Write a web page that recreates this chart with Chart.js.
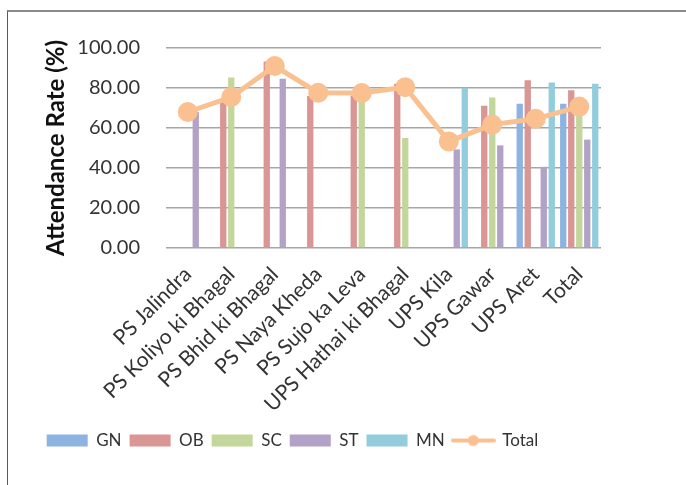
<!DOCTYPE html>
<html>
<head>
<meta charset="utf-8">
<script src="https://cdn.jsdelivr.net/npm/chart.js@4.4.1/dist/chart.umd.min.js"></script>
<style>
  html, body { margin: 0; padding: 0; background: #fff; }
  #frame {
    position: absolute; left: 7px; top: 10px; width: 720px; height: 520px;
    border-top: 2px solid #8c8c8c; border-left: 1px solid #5a5a5a;
  }
  #chart { position: absolute; left: 0; top: 0; }
</style>
</head>
<body>
<div id="frame"></div>
<canvas id="chart" width="686" height="485"></canvas>
<script>
// --- datos ---
const schools = ["PS Jalindra", "PS Koliyo ki Bhagal", "PS Bhid ki Bhagal", "PS Naya Kheda",
  "PS Sujo ka Leva", "UPS Hathai ki Bhagal", "UPS Kila", "UPS Gawar", "UPS Aret", "Total"];
const gn = [null, null, null, null, null, null, null, null, 72.1, 72.1];
const ob = [null, 73.0, 93.3, 76.0, 76.3, 82.1, null, 71.1, 83.9, 78.9];
const sc = [null, 85.3, null, null, 79.0, 55.0, null, 75.3, null, 71.0];
const st = [68.0, null, 84.6, null, null, null, 49.3, 51.3, 40.6, 54.2];
const mn = [null, null, null, null, null, null, 80.1, null, 82.8, 82.1];
const total = [68.0, 75.5, 91.0, 77.6, 77.5, 80.4, 53.3, 61.7, 64.6, 70.7];
const yTicks = [0, 20, 40, 60, 80, 100];

const orange = "#fac090";
const fontFam = "Lato, 'Open Sans', sans-serif";

// icono de la leyenda para la linea (linea + circulo)
const totalIcon = document.createElement("canvas");
totalIcon.width = 45; totalIcon.height = 14;
(() => {
    const c = totalIcon.getContext("2d");
    c.strokeStyle = orange; c.lineWidth = 4; c.lineCap = "round";
    c.beginPath(); c.moveTo(2, 7); c.lineTo(43, 7); c.stroke();
    c.fillStyle = orange;
    c.beginPath(); c.arc(22.5, 7, 5.5, 0, Math.PI * 2); c.fill();
})();

const barSet = (label, data, color) => ({
    type: "bar", label, data, backgroundColor: color, borderWidth: 0,
    categoryPercentage: 0.92, barPercentage: 0.79, order: 1
});

new Chart(document.getElementById("chart"), {
    data: {
        labels: schools,
        datasets: [
            barSet("GN", gn, "#8db3e2"),
            barSet("OB", ob, "#d99694"),
            barSet("SC", sc, "#c3d69b"),
            barSet("ST", st, "#b3a2c7"),
            barSet("MN", mn, "#93cddd"),
            {
                type: "line", label: "Total", data: total,
                borderColor: orange, backgroundColor: orange, borderWidth: 5,
                pointRadius: 10, pointHoverRadius: 10, pointBorderWidth: 0,
                pointBackgroundColor: orange, tension: 0, order: -1
            }
        ]
    },
    options: {
        responsive: false,
        animation: false,
        devicePixelRatio: 1,
        // padding izquierdo negativo para centrar la leyenda como en Excel
        layout: { padding: { top: 48, left: -16, right: 85, bottom: 26 } },
        plugins: {
            tooltip: { enabled: false },
            legend: {
                position: "bottom",
                labels: {
                    usePointStyle: true,
                    pointStyleWidth: 41,
                    boxHeight: 12,
                    padding: 8,
                    color: "#333",
                    font: { family: fontFam, size: 17 },
                    sort: (a, b) => a.datasetIndex - b.datasetIndex,
                    generateLabels: (chart) => {
                        const items = Chart.defaults.plugins.legend.labels.generateLabels(chart);
                        items.forEach(it => { it.pointStyle = it.text === "Total" ? totalIcon : "rect"; });
                        return items;
                    }
                }
            }
        },
        scales: {
            x: {
                grid: { display: false },
                border: { display: false },
                ticks: {
                    minRotation: 45, maxRotation: 45, padding: 6, autoSkip: false,
                    color: "#333", font: { family: fontFam, size: 21 }
                },
                afterFit: (s) => { s.height = 176; }
            },
            y: {
                min: 0, max: 100,
                afterBuildTicks: (s) => { s.ticks = yTicks.map(v => ({ value: v })); },
                grid: { color: "#a6a6a6", lineWidth: 1.4, drawTicks: false },
                border: { display: false },
                ticks: {
                    padding: 26, color: "#333",
                    font: { family: fontFam, size: 20 },
                    callback: (v) => Number(v).toFixed(2)
                },
                title: {
                    display: true, text: "Attendance Rate (%)", color: "#111",
                    font: { family: fontFam, size: 24, weight: "bold" },
                    padding: { top: 58, bottom: 0 }
                },
                afterFit: (s) => { s.width = 182; }
            }
        }
    }
});
</script>
</body>
</html>
